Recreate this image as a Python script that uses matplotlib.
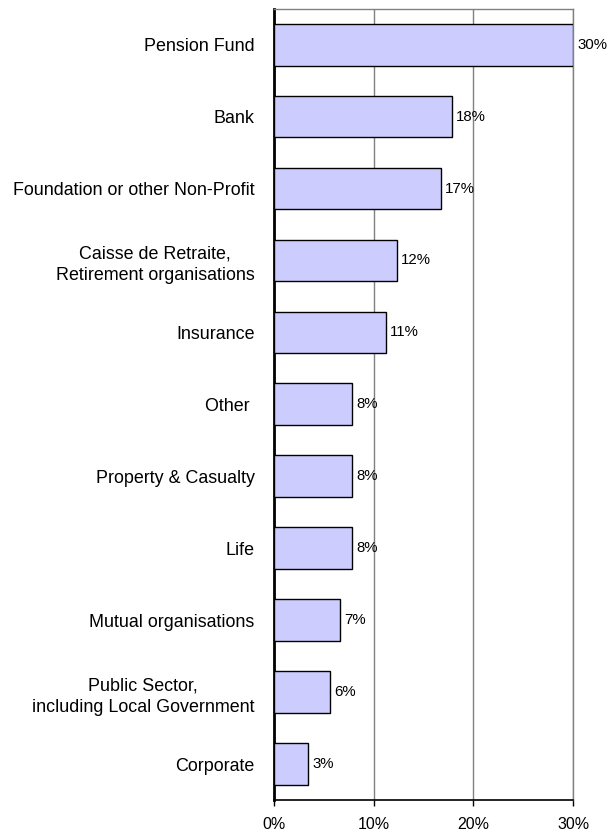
import matplotlib
matplotlib.use("Agg")
import matplotlib.pyplot as plt
import numpy as np

plt.rcParams["font.family"] = ["Liberation Sans", "DejaVu Sans"]

# Data (top to bottom)
categories = [
    "Pension Fund",
    "Bank",
    "Foundation or other Non-Profit",
    "Caisse de Retraite,\nRetirement organisations",
    "Insurance",
    "Other ",
    "Property & Casualty",
    "Life",
    "Mutual organisations",
    "Public Sector,\nincluding Local Government",
    "Corporate",
]
values = [30.0, 17.8, 16.7, 12.3, 11.2, 7.8, 7.8, 7.8, 6.6, 5.6, 3.4]
xticks = [0, 10, 20, 30]

BAR_COLOR = "#CCCCFF"
GRID_COLOR = "#808080"

fig = plt.figure(figsize=(6.13, 8.32), dpi=100)
ax = fig.add_axes([0.447, 0.0385, 0.488, 0.951])

y = np.arange(len(categories))
bars = ax.barh(y, values, height=0.58, color=BAR_COLOR, edgecolor="black",
               linewidth=1.0, zorder=3)

ax.set_ylim(len(categories) - 0.5, -0.5)
ax.set_xlim(0, 30)

# value labels
for b, v in zip(bars, values):
    ax.annotate(f"{round(v)}%", (b.get_width(), b.get_y() + b.get_height() / 2),
                xytext=(3, 0), textcoords="offset points",
                ha="left", va="center", fontsize=10.8, color="black", zorder=4)

ax.set_yticks(y)
ax.set_yticklabels(categories, fontsize=12.9)
for t in ax.get_yticklabels():
    t.set_multialignment("center")
    t.set_linespacing(1.35)
ax.tick_params(axis="y", length=0, pad=14)

ax.set_xticks(xticks)
ax.set_xticklabels([f"{t}%" for t in xticks], fontsize=11.5)
ax.tick_params(axis="x", direction="out", length=4, width=1, pad=8)

# vertical gridlines
ax.xaxis.grid(True, color=GRID_COLOR, linewidth=1.0, zorder=0)
ax.set_axisbelow(True)

ax.spines["left"].set_linewidth(2.0)
ax.spines["left"].set_color("black")
ax.spines["bottom"].set_linewidth(1.2)
ax.spines["bottom"].set_color("black")
ax.spines["top"].set_color(GRID_COLOR)
ax.spines["top"].set_linewidth(1.0)
ax.spines["right"].set_color(GRID_COLOR)
ax.spines["right"].set_linewidth(1.0)

fig.savefig("out.png", dpi=100)
plt.close(fig)
